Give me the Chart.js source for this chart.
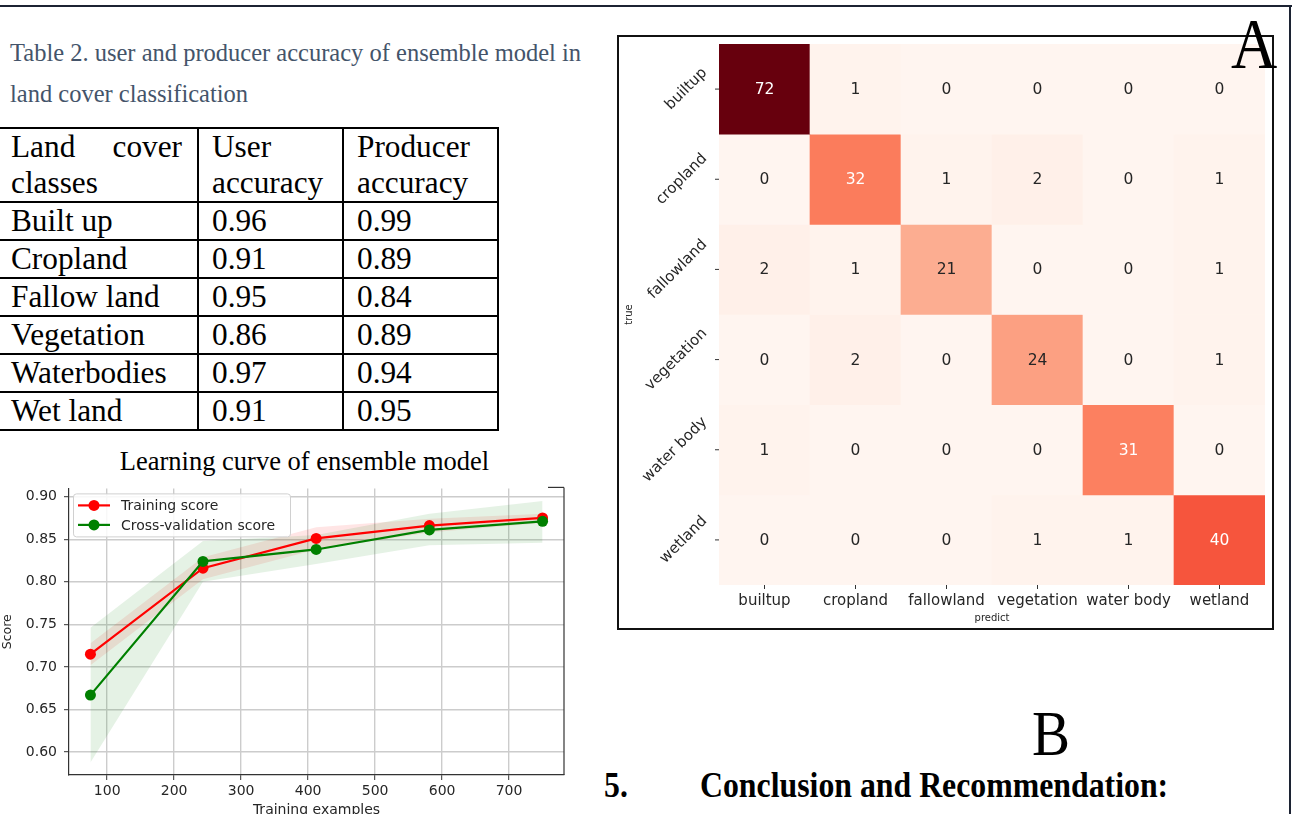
<!DOCTYPE html>
<html><head><meta charset="utf-8">
<script src="https://cdn.jsdelivr.net/npm/chart.js@4.4.1/dist/chart.umd.min.js"></script>
<style>
html,body{margin:0;padding:0;width:1295px;height:814px;overflow:hidden;background:#fff;}
body{position:relative;font-family:'Liberation Serif','Times New Roman',serif;color:#000;}
.abs{position:absolute;white-space:nowrap;}
#frameTop{left:0;top:5px;width:1292px;height:2px;background:#1c2333;}
#frameRight{left:1289px;top:5px;width:2px;height:820px;background:#1c2333;}
#caption{left:10px;top:32px;font-size:24.5px;line-height:41px;color:#44546a;}
#acc{position:absolute;left:-4px;top:127px;border-collapse:collapse;table-layout:fixed;font-size:31.3px;}
#acc td{border:2px solid #000;padding:0 0 0 13px;line-height:36px;vertical-align:top;white-space:nowrap;}
#acc td.just{white-space:normal;text-align:justify;text-align-last:left;padding-right:15px;}
#lcTitle{left:0;width:609px;top:445px;text-align:center;font-size:26.5px;line-height:32px;}
#lcCanvas{position:absolute;left:0;top:473px;}
#cmBox{position:absolute;left:617px;top:35px;width:657px;height:595px;border:2px solid #111;box-sizing:border-box;}
#cmCanvas{position:absolute;left:619px;top:37px;}
#letterA{left:1231px;top:15px;font-size:64px;line-height:64px;transform:scaleY(1.13);transform-origin:0 54px;}
#letterB{left:1032px;top:707px;font-size:57px;line-height:57px;transform:scaleY(1.13);transform-origin:0 48px;}
.bold{font-weight:bold;font-size:31.8px;line-height:32px;transform:scaleY(1.1);transform-origin:0 27px;}
#num5{left:604px;top:771px;}
#concl{left:700px;top:771px;}
</style>
</head>
<body>
<div id="frameTop" class="abs"></div>
<div id="frameRight" class="abs"></div>
<div id="caption" class="abs">Table 2. user and producer accuracy of ensemble model in<br>land cover classification</div>
<table id="acc"><colgroup><col style="width:201px"><col style="width:145px"><col style="width:155px"></colgroup><tbody id="accBody"></tbody></table>
<div id="lcTitle" class="abs">Learning curve of ensemble model</div>
<canvas id="lcCanvas" width="575" height="350"></canvas>
<div id="cmBox"></div>
<canvas id="cmCanvas" width="653" height="591"></canvas>
<div id="letterA" class="abs">A</div>
<div id="letterB" class="abs">B</div>
<div id="num5" class="abs bold">5.</div>
<div id="concl" class="abs bold">Conclusion and Recommendation:</div>
<script>
// ---------- Table data ----------
const tableHeader = ['Land cover classes', 'User accuracy', 'Producer accuracy'];
const landClasses = ['Built up', 'Cropland', 'Fallow land', 'Vegetation', 'Waterbodies', 'Wet land'];
const userAcc = ['0.96', '0.91', '0.95', '0.86', '0.97', '0.91'];
const producerAcc = ['0.99', '0.89', '0.84', '0.89', '0.94', '0.95'];

// ---------- Learning curve data ----------
const trainSizes = [75, 243, 412, 581, 750];
const trainMean = [0.715, 0.816, 0.851, 0.866, 0.875];
const trainHigh = [0.728, 0.829, 0.864, 0.874, 0.880];
const trainLow  = [0.702, 0.803, 0.838, 0.858, 0.869];
const cvMean = [0.667, 0.824, 0.838, 0.861, 0.871];
const cvHigh = [0.746, 0.848, 0.855, 0.880, 0.895];
const cvLow  = [0.588, 0.800, 0.821, 0.843, 0.846];
const lcLegend = ['Training score', 'Cross-validation score'];

// ---------- Confusion matrix data ----------
const cmLabels = ['builtup', 'cropland', 'fallowland', 'vegetation', 'water body', 'wetland'];
const cmMatrix = [
  [72, 1, 0, 0, 0, 0],
  [0, 32, 1, 2, 0, 1],
  [2, 1, 21, 0, 0, 1],
  [0, 2, 0, 24, 0, 1],
  [1, 0, 0, 0, 31, 0],
  [0, 0, 0, 1, 1, 40]
];

// ---------- build table ----------
(function(){
  const tb = document.getElementById('accBody');
  let tr = document.createElement('tr');
  tableHeader.forEach((h,i)=>{
    const td=document.createElement('td');
    td.className='just';
    if(i===0){ td.textContent=h; }
    else { const p=h.split(' '); td.innerHTML=p[0]+'<br>'+p[1]; td.style.whiteSpace='nowrap'; td.style.textAlign='left'; }
    tr.appendChild(td);
  });
  tb.appendChild(tr);
  landClasses.forEach((c,i)=>{
    const r=document.createElement('tr');
    [c,userAcc[i],producerAcc[i]].forEach(v=>{const td=document.createElement('td');td.textContent=v;r.appendChild(td);});
    tb.appendChild(r);
  });
})();

const FONT = "'DejaVu Sans', sans-serif";
const TXT = '#262626';

// ---------- learning curve chart ----------
const pts = (arr)=>trainSizes.map((x,i)=>({x:x,y:arr[i]}));
const lcDecor = {
  id:'lcDecor',
  afterDraw(chart){
    const ctx=chart.ctx, a=chart.chartArea;
    ctx.save();
    ctx.strokeStyle='#333'; ctx.lineWidth=1.2;
    ctx.beginPath(); ctx.moveTo(a.right,a.top-1); ctx.lineTo(a.right,a.bottom); ctx.stroke();
    ctx.beginPath(); ctx.moveTo(a.right-16,a.top-1); ctx.lineTo(a.right,a.top-1); ctx.stroke();
    // legend
    const bx=a.left+4, by=a.top+5, bw=217, bh=43;
    ctx.fillStyle='rgba(255,255,255,0.85)'; ctx.strokeStyle='#d0d0d0'; ctx.lineWidth=1;
    ctx.beginPath();
    if(ctx.roundRect){ctx.roundRect(bx+0.5,by+0.5,bw,bh,3);} else {ctx.rect(bx+0.5,by+0.5,bw,bh);}
    ctx.fill(); ctx.stroke();
    const cols=['#ff0000','#008000'];
    lcLegend.forEach((lab,i)=>{
      const y=by+12+i*19.5;
      ctx.strokeStyle=cols[i]; ctx.lineWidth=2.2;
      ctx.beginPath(); ctx.moveTo(bx+5,y); ctx.lineTo(bx+37,y); ctx.stroke();
      ctx.fillStyle=cols[i]; ctx.beginPath(); ctx.arc(bx+21,y,5.5,0,Math.PI*2); ctx.fill();
      ctx.fillStyle=TXT; ctx.font='14px '+FONT; ctx.textAlign='left'; ctx.textBaseline='middle';
      ctx.fillText(lab,bx+48,y+1);
    });
    ctx.restore();
  }
};
new Chart(document.getElementById('lcCanvas'), {
  type:'line',
  data:{datasets:[
    {label:lcLegend[1], data:pts(cvMean), borderColor:'#008000', backgroundColor:'#008000', borderWidth:2.2, pointRadius:5.5, pointBorderWidth:0, fill:false},
    {label:lcLegend[0], data:pts(trainMean), borderColor:'#ff0000', backgroundColor:'#ff0000', borderWidth:2.2, pointRadius:5.5, pointBorderWidth:0, fill:false},
    {label:'cvHigh', data:pts(cvHigh), borderWidth:0, pointRadius:0, fill:'+1', backgroundColor:'rgba(0,128,0,0.1)'},
    {label:'cvLow', data:pts(cvLow), borderWidth:0, pointRadius:0, fill:false},
    {label:'trHigh', data:pts(trainHigh), borderWidth:0, pointRadius:0, fill:'+1', backgroundColor:'rgba(255,0,0,0.1)'},
    {label:'trLow', data:pts(trainLow), borderWidth:0, pointRadius:0, fill:false}
  ]},
  options:{
    responsive:false, animation:false, events:[],
    layout:{padding:{left:0,right:11,top:4,bottom:0}},
    plugins:{legend:{display:false},tooltip:{enabled:false}},
    scales:{
      x:{type:'linear', min:43, max:782,
         ticks:{stepSize:100, includeBounds:false, font:{family:FONT,size:14}, color:TXT, padding:3, maxRotation:0, callback:v=>String(v)},
         grid:{color:'#cccccc', lineWidth:1.4, tickLength:5, tickColor:'#333', tickWidth:1},
         border:{display:true, color:'#333', width:1.2},
         title:{display:true, text:'Training examples', font:{family:FONT,size:14}, color:TXT, padding:{top:0,bottom:4}},
         afterFit(s){s.height=48;}},
      y:{type:'linear', min:0.5732, max:0.9097,
         ticks:{stepSize:0.05, includeBounds:false, font:{family:FONT,size:14}, color:TXT, padding:7, callback:v=>Number(v).toFixed(2)},
         grid:{color:'#cccccc', lineWidth:1.4, tickLength:5, tickColor:'#333', tickWidth:1},
         border:{display:true, color:'#333', width:1.2},
         title:{display:true, text:'Score', font:{family:FONT,size:12.5}, color:TXT, padding:{top:0,bottom:0}},
         afterFit(s){s.width=69;}}
    }
  },
  plugins:[lcDecor]
});

// ---------- confusion matrix heatmap ----------
const REDS=[[255,245,240],[254,224,210],[252,187,161],[252,146,114],[251,106,74],[239,59,44],[203,24,29],[165,15,21],[103,0,13]];
function reds(t){t=Math.max(0,Math.min(1,t));const s=t*8;const i=Math.min(7,Math.floor(s));const f=s-i;const a=REDS[i],b=REDS[i+1];return [0,1,2].map(k=>Math.round(a[k]+(b[k]-a[k])*f));}
function lum(c){const l=c.map(v=>{v/=255;return v<=0.03928?v/12.92:Math.pow((v+0.055)/1.055,2.4);});return 0.2126*l[0]+0.7152*l[1]+0.0722*l[2];}
const vmax=Math.max(...cmMatrix.flat()), vmin=Math.min(...cmMatrix.flat());
const cellRGB = cmMatrix.map(row=>row.map(v=>reds((v-vmin)/(vmax-vmin))));

const cmPlugin = {
  id:'cmText',
  afterDatasetsDraw(chart){
    const ctx=chart.ctx, a=chart.chartArea, ys=chart.scales.y;
    ctx.save();
    ctx.font='15.5px '+FONT; ctx.textAlign='center'; ctx.textBaseline='middle';
    cmMatrix.forEach((row,r)=>{
      const meta=chart.getDatasetMeta(r);
      meta.data.forEach((bar,c)=>{
        const col=cellRGB[r][c];
        ctx.fillStyle = lum(col)>0.408 ? TXT : '#ffffff';
        ctx.fillText(String(row[c]), bar.x, (bar.y+bar.base)/2+1);
      });
    });
    cmLabels.forEach((lab,r)=>{
      const y=ys.getPixelForValue(r+0.5);
      ctx.strokeStyle='#333'; ctx.lineWidth=1;
      ctx.beginPath(); ctx.moveTo(a.left-4,y); ctx.lineTo(a.left,y); ctx.stroke();
      ctx.font='15px '+FONT;
      const w=ctx.measureText(lab).width, h=17.5;
      const bw=(w+h)*Math.SQRT1_2;
      ctx.save(); ctx.translate(a.left-8-bw/2, y); ctx.rotate(-Math.PI/4);
      ctx.fillStyle=TXT; ctx.textAlign='center'; ctx.textBaseline='middle';
      ctx.fillText(lab,0,0); ctx.restore();
    });
    ctx.save(); ctx.translate(10,(a.top+a.bottom)/2); ctx.rotate(-Math.PI/2);
    ctx.font='10px '+FONT; ctx.fillStyle=TXT; ctx.textAlign='center'; ctx.textBaseline='middle';
    ctx.fillText('true',0,0); ctx.restore();
    ctx.restore();
  }
};
new Chart(document.getElementById('cmCanvas'), {
  type:'bar',
  data:{labels:cmLabels, datasets: cmMatrix.map((row,r)=>({
    label:cmLabels[r],
    data: row.map(()=>[r, r+1]),
    backgroundColor: cellRGB[r].map(c=>'rgb('+c.join(',')+')'),
    borderWidth:0, barPercentage:1, categoryPercentage:1, grouped:false
  }))},
  options:{
    responsive:false, animation:false, events:[],
    layout:{padding:{left:0,right:7,top:7,bottom:0}},
    plugins:{legend:{display:false},tooltip:{enabled:false}},
    scales:{
      x:{type:'category',
         grid:{display:true, drawOnChartArea:false, drawTicks:true, offset:false, tickLength:4, tickColor:'#333', lineWidth:1},
         border:{display:false},
         ticks:{font:{family:FONT,size:15}, color:TXT, padding:3, maxRotation:0, minRotation:0, autoSkip:false},
         title:{display:true, text:'predict', font:{family:FONT,size:10}, color:TXT, padding:{top:0,bottom:4}},
         afterFit(s){s.height=43;}},
      y:{type:'linear', min:0, max:6, reverse:true,
         grid:{display:false}, border:{display:false}, ticks:{display:false},
         afterFit(s){s.width=100;}}
    }
  },
  plugins:[cmPlugin]
});
</script>
</body></html>
